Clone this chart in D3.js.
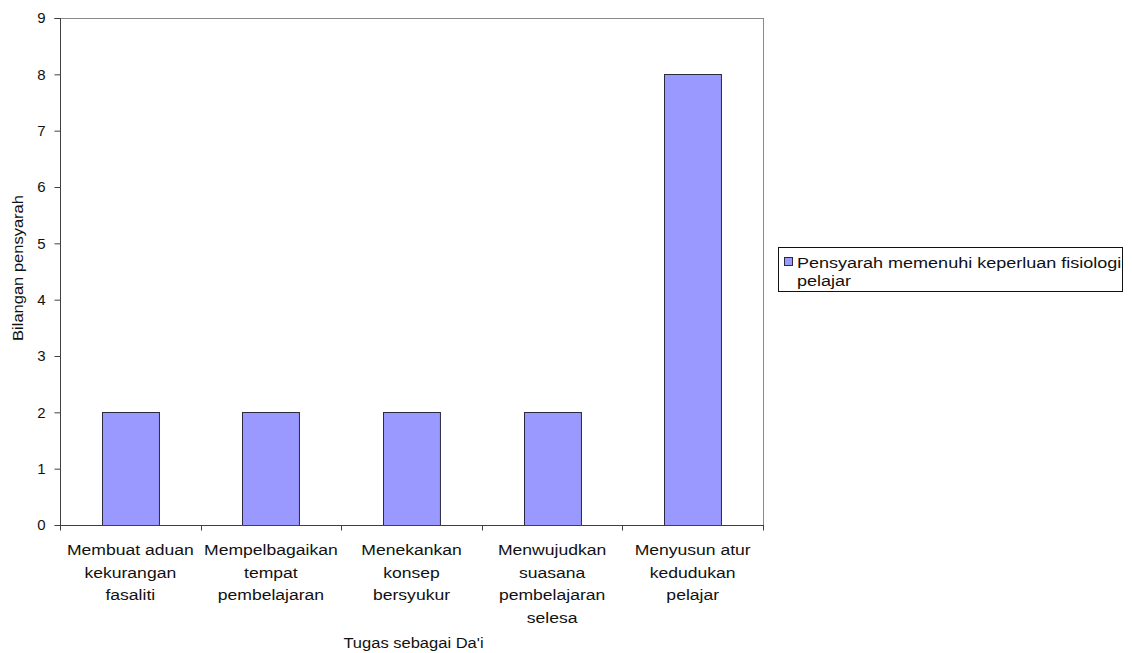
<!DOCTYPE html>
<html>
<head>
<meta charset="utf-8">
<script src="https://cdn.jsdelivr.net/npm/d3@7"></script>
<style>
  html, body { margin: 0; padding: 0; background: #fff; }
  svg { display: block; font-family: "Liberation Sans", Arial, sans-serif; }
</style>
</head>
<body>
<svg id="chart" width="1132" height="653"></svg>
<script>
// ---- data ----
const categories = [
  ["Membuat aduan", "kekurangan", "fasaliti"],
  ["Mempelbagaikan", "tempat", "pembelajaran"],
  ["Menekankan", "konsep", "bersyukur"],
  ["Menwujudkan", "suasana", "pembelajaran", "selesa"],
  ["Menyusun atur", "kedudukan", "pelajar"]
];
const values = [2, 2, 2, 2, 8];
const yTicks = [0, 1, 2, 3, 4, 5, 6, 7, 8, 9];
const seriesName = ["Pensyarah memenuhi keperluan fisiologi", "pelajar"];
const xTitle = "Tugas sebagai Da'i";
const yTitle = "Bilangan pensyarah";

// ---- layout ----
const svg = d3.select("#chart");
const L = 60, R = 763, T = 18, B = 525;
const SX = 1.14;

const x = d3.scaleBand().domain(d3.range(categories.length)).range([L, R])
  .paddingInner(0.595).paddingOuter(0.2975);
const xEdge = d3.scaleLinear().domain([0, categories.length]).range([L, R]);
const y = d3.scaleLinear().domain([0, 9]).range([B, T]);

// plot frame (top & right gray)
svg.append("line").attr("x1", L).attr("x2", R).attr("y1", T + 0.5).attr("y2", T + 0.5)
  .attr("stroke", "#8a8a8a").attr("stroke-width", 1);
svg.append("line").attr("x1", R + 0.5).attr("x2", R + 0.5).attr("y1", T).attr("y2", B)
  .attr("stroke", "#8a8a8a").attr("stroke-width", 1);

// bars
svg.append("g").selectAll("rect").data(values).join("rect")
  .attr("x", (d, i) => Math.round(x(i)) + 0.5)
  .attr("y", d => Math.round(y(d)) + 0.5)
  .attr("width", x.bandwidth())
  .attr("height", d => y(0) - Math.round(y(d)))
  .attr("fill", "#9999ff")
  .attr("stroke", "#2a2a3e")
  .attr("stroke-width", 1);

// y axis
const yAxis = d3.axisLeft(y).tickValues(yTicks).tickSize(6).tickPadding(9).tickFormat(d3.format("d"));
const gy = svg.append("g").attr("transform", `translate(${L + 0.5},0)`).call(yAxis);
gy.select(".domain").attr("stroke", "#404040").attr("d", `M-6,${T + 0.5}H0V${B + 5}`);
gy.selectAll(".tick line").attr("stroke", "#404040");
gy.selectAll(".tick text").attr("font-size", 15).attr("fill", "#111")
  .attr("font-family", "'Liberation Sans', Arial, sans-serif");

// x axis (ticks at category boundaries)
const gx = svg.append("g").attr("transform", `translate(0,${B + 0.5})`);
gx.append("line").attr("x1", L).attr("x2", R + 1).attr("y1", 0).attr("y2", 0)
  .attr("stroke", "#404040");
gx.selectAll("line.tk").data(d3.range(categories.length + 1)).join("line")
  .attr("class", "tk")
  .attr("x1", d => Math.round(xEdge(d)) + 0.5).attr("x2", d => Math.round(xEdge(d)) + 0.5)
  .attr("y1", 0).attr("y2", 5).attr("stroke", "#404040");

// category labels
const catG = svg.append("g");
categories.forEach((lines, i) => {
  const cx = x(i) + x.bandwidth() / 2;
  lines.forEach((t, j) => {
    catG.append("text")
      .attr("transform", `translate(${cx},${555 + j * 22.6}) scale(${SX},1)`)
      .attr("text-anchor", "middle")
      .attr("font-size", 15.4)
      .attr("fill", "#111")
      .text(t);
  });
});

// axis titles
svg.append("text")
  .attr("transform", `translate(${(L + R) / 2 + 2},648) scale(${SX},1)`)
  .attr("text-anchor", "middle").attr("font-size", 14.5).attr("fill", "#111")
  .text(xTitle);
svg.append("text")
  .attr("transform", `translate(23,268) rotate(-90) scale(${SX},1)`)
  .attr("text-anchor", "middle").attr("font-size", 14.5).attr("fill", "#111")
  .text(yTitle);

// legend
const lg = svg.append("g");
lg.append("rect").attr("x", 778.5).attr("y", 247.5).attr("width", 344).attr("height", 44)
  .attr("fill", "#fff").attr("stroke", "#111").attr("stroke-width", 1);
lg.append("rect").attr("x", 784.5).attr("y", 257.5).attr("width", 8).attr("height", 8)
  .attr("fill", "#9999ff").attr("stroke", "#2a2a3e");
seriesName.forEach((t, j) => {
  lg.append("text")
    .attr("transform", `translate(797,${267.5 + j * 18.7}) scale(1.17,1)`)
    .attr("font-size", 15.4).attr("fill", "#111")
    .text(t);
});
</script>
</body>
</html>
